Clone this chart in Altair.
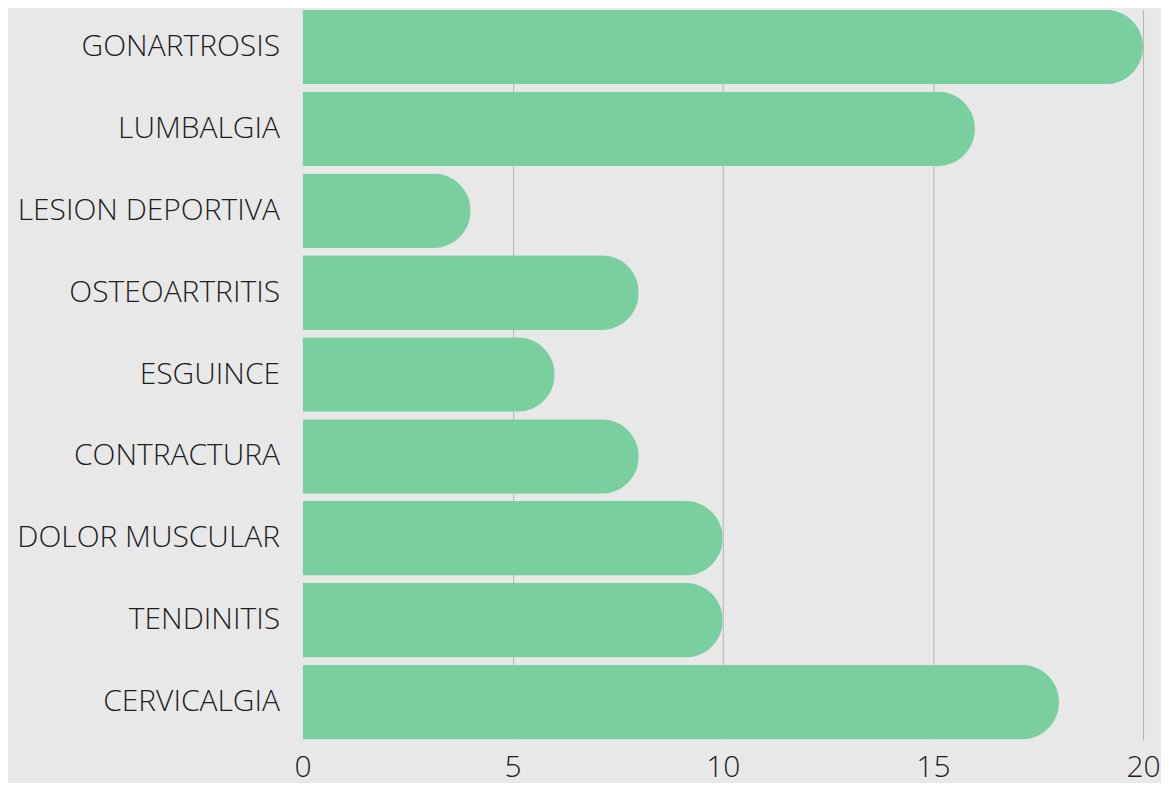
import altair as alt
import pandas as pd

categories = ["GONARTROSIS", "LUMBALGIA", "LESION DEPORTIVA", "OSTEOARTRITIS",
              "ESGUINCE", "CONTRACTURA", "DOLOR MUSCULAR", "TENDINITIS", "CERVICALGIA"]
values = [20, 16, 4, 8, 6, 8, 10, 10, 18]
x_ticks = [0, 5, 10, 15, 20]

df = pd.DataFrame({"cat": categories, "val": values})

chart = alt.Chart(df).mark_bar(
    color="#7acf9f", cornerRadiusEnd=37.5
).encode(
    x=alt.X("val:Q", scale=alt.Scale(domain=[0, 20], nice=False),
            axis=alt.Axis(values=x_ticks, title=None, domain=False, ticks=False,
                          grid=True, gridColor="#b4b4b4", gridWidth=1,
                          gridOpacity={"condition": {"test": "datum.value === 0", "value": 0}, "value": 1},
                          labelFont="Open Sans", labelFontWeight=300, labelFontSize=30,
                          labelColor="#1e1e1e", labelPadding=13, labelFlush=False)),
    y=alt.Y("cat:N", sort=categories,
            scale=alt.Scale(paddingInner=0.09, paddingOuter=0),
            axis=alt.Axis(title=None, domain=False, ticks=False, grid=False,
                          labelFont="Open Sans", labelFontWeight=300, labelFontSize=30,
                          labelColor="#1e1e1e", labelPadding=23, labelLimit=400))
).properties(
    width=842, height=731, background="#e8e8e9",
    padding={"left": 8, "top": 1, "right": 0, "bottom": 0}
).configure_view(stroke=None)

chart.save("out.html", embed_options={"renderer": "svg", "actions": False})
